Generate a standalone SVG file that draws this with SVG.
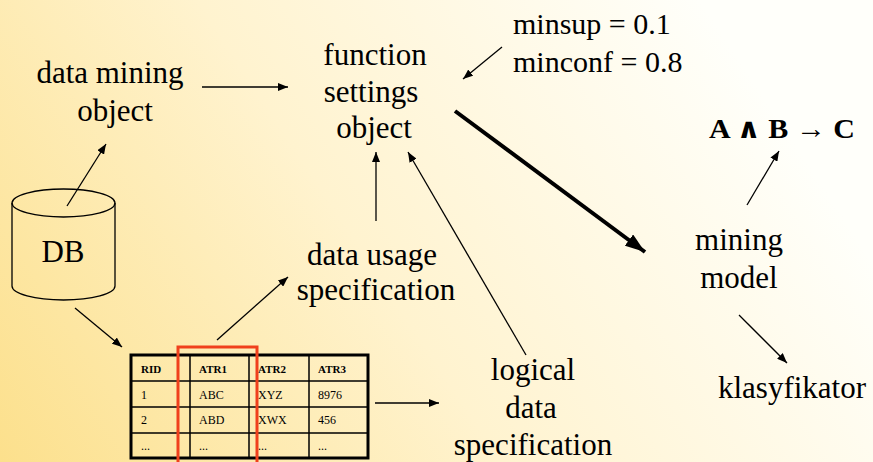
<svg xmlns="http://www.w3.org/2000/svg" width="873" height="462" viewBox="0 0 873 462">
<defs>
<linearGradient id="bg" gradientUnits="userSpaceOnUse" x1="0" y1="462" x2="700" y2="0">
<stop offset="0" stop-color="#FCE08C"/>
<stop offset="0.5" stop-color="#FFF3CF"/>
<stop offset="1" stop-color="#FFFFFA"/>
</linearGradient>
<marker id="ah" viewBox="0 0 10 8" refX="10" refY="4" markerWidth="10" markerHeight="8" markerUnits="userSpaceOnUse" orient="auto">
<path d="M0,0 L10,4 L0,8 Z" fill="#000"/>
</marker>
<marker id="ahb" viewBox="0 0 20 14" refX="20" refY="7" markerWidth="20" markerHeight="14" markerUnits="userSpaceOnUse" orient="auto">
<path d="M0,0 L20,7 L0,14 Z" fill="#000"/>
</marker>
</defs>
<style>
text{font-family:'Liberation Serif','Times New Roman',Times,'DejaVu Serif','Noto Serif',serif}
.t{font-size:31px;fill:#000;text-anchor:middle}
.tl{font-size:30px;fill:#000}
.c{stroke:#000;stroke-width:1.3;fill:none;marker-end:url(#ah)}
.cb{stroke:#000;stroke-width:4;fill:none;marker-end:url(#ahb)}
.th{font-size:11px;font-weight:bold;fill:#000}
.td{font-size:12px;fill:#000}
.grid{stroke:#000;stroke-width:1.5;fill:none}
</style>
<rect x="0" y="0" width="873" height="462" fill="url(#bg)"/>

<g id="db">
<path d="M12,203 L12,286 A51.5,14 0 0 0 115,286 L115,203" fill="none" stroke="#000" stroke-width="1.3"/>
<ellipse cx="63.5" cy="203" rx="51.5" ry="14" fill="none" stroke="#000" stroke-width="1.3"/>
<text class="t" x="63" y="262">DB</text>
</g>

<g id="data-mining-object">
<text class="t" x="110" y="83">data mining</text>
<text class="t" x="115" y="121">object</text>
</g>

<g id="function-settings-object">
<text class="t" x="375" y="65">function</text>
<text class="t" x="371" y="102">settings</text>
<text class="t" x="374" y="138">object</text>
</g>

<g id="params">
<text class="tl" x="513" y="34">minsup = 0.1</text>
<text class="tl" x="513" y="72">minconf = 0.8</text>
</g>

<g id="rule">
<text x="709" y="138" font-size="28" font-weight="bold" textLength="146" lengthAdjust="spacingAndGlyphs">A ∧ B → C</text>
</g>

<g id="mining-model">
<text class="t" x="739" y="250">mining</text>
<text class="t" x="739" y="288">model</text>
</g>

<g id="klasyfikator">
<text class="t" x="792" y="398">klasyfikator</text>
</g>

<g id="data-usage-specification">
<text class="t" x="372" y="265">data usage</text>
<text class="t" x="376" y="300">specification</text>
</g>

<g id="logical-data-specification">
<text class="t" x="533" y="380">logical</text>
<text class="t" x="531" y="418">data</text>
<text class="t" x="533" y="455">specification</text>
</g>

<g id="table">
<rect x="131" y="355" width="237" height="103" fill="none" stroke="#000" stroke-width="3"/>
<path class="grid" d="M190,355 V458 M249,355 V458 M309,355 V458 M131,381 H368 M131,407 H368 M131,433 H368"/>
<text class="th" x="141" y="373">RID</text>
<text class="th" x="199" y="373">ATR1</text>
<text class="th" x="258" y="373">ATR2</text>
<text class="th" x="318" y="373">ATR3</text>
<text class="td" x="141" y="399">1</text>
<text class="td" x="199" y="399">ABC</text>
<text class="td" x="258" y="399">XYZ</text>
<text class="td" x="318" y="399">8976</text>
<text class="td" x="141" y="424">2</text>
<text class="td" x="199" y="424">ABD</text>
<text class="td" x="258" y="424">XWX</text>
<text class="td" x="318" y="424">456</text>
<text class="td" x="141" y="450">...</text>
<text class="td" x="199" y="450">...</text>
<text class="td" x="258" y="450">...</text>
<text class="td" x="318" y="450">...</text>
<path d="M178,470 V347 H257 V470" fill="none" stroke="#F0401C" stroke-width="3"/>
</g>

<g id="connectors">
<line class="c" x1="202" y1="87" x2="288" y2="87"/>
<line class="c" x1="502" y1="47" x2="463" y2="79"/>
<line class="cb" x1="455" y1="111" x2="645" y2="252"/>
<line class="c" x1="376" y1="221" x2="376" y2="152"/>
<line class="c" x1="526" y1="355" x2="408" y2="152"/>
<line class="c" x1="67" y1="206" x2="106" y2="144"/>
<line class="c" x1="75" y1="308" x2="122" y2="347"/>
<line class="c" x1="217" y1="340" x2="288" y2="277"/>
<line class="c" x1="375" y1="403" x2="439" y2="403"/>
<line class="c" x1="747" y1="205" x2="779" y2="151"/>
<line class="c" x1="739" y1="315" x2="787" y2="363"/>
</g>
</svg>
